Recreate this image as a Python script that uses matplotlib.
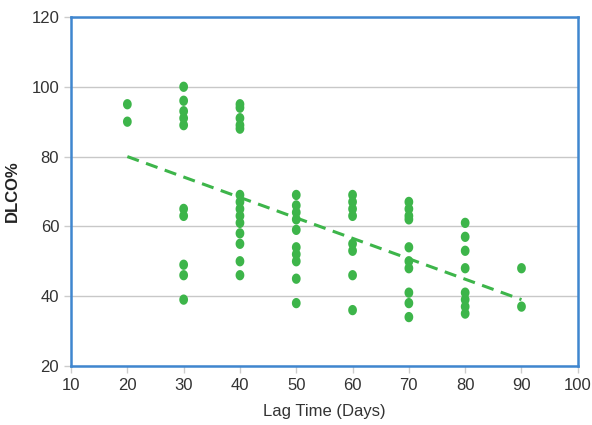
import matplotlib.pyplot as plt
from matplotlib.path import Path
import numpy as np

# lag time (days) and DLCO% readings, grouped by column
lag_days = ([20] * 2 + [30] * 10 + [40] * 14 + [50] * 10 + [60] * 8
            + [70] * 10 + [80] * 8 + [90] * 2)
dlco = [95, 90,
        100, 96, 93, 91, 89, 65, 63, 49, 46, 39,
        95, 94, 91, 89, 88, 69, 67, 65, 63, 61, 58, 55, 50, 46,
        69, 66, 64, 62, 59, 54, 52, 50, 45, 38,
        69, 67, 65, 63, 55, 53, 46, 36,
        67, 65, 63, 62, 54, 50, 48, 41, 38, 34,
        61, 57, 53, 48, 41, 39, 37, 35,
        48, 37]

# trend line end points
trend_x = [20, 90]
trend_y = [80, 39]

x_ticks = [10, 20, 30, 40, 50, 60, 70, 80, 90, 100]
y_ticks = [20, 40, 60, 80, 100, 120]

green = '#3db54a'
blue = '#3f86cf'

# slightly tall oval marker
t = np.linspace(0, 2 * np.pi, 40)
oval = Path(np.column_stack([0.85 * np.cos(t), np.sin(t)]))

plt.rcParams['font.family'] = ['Liberation Sans Narrow', 'Liberation Sans', 'DejaVu Sans']

fig = plt.figure(figsize=(5.92, 4.25), dpi=100)
ax = fig.add_axes([0.12, 0.139, 0.856, 0.821])

ax.scatter(lag_days, dlco, s=55, marker=oval, color=green, edgecolors='none', zorder=3)
ax.plot(trend_x, trend_y, color=green, linestyle=(0, (4, 2.5)), linewidth=2.2, zorder=2)

ax.set_xlim(10, 100)
ax.set_ylim(20, 120)
ax.set_xticks(x_ticks)
ax.set_yticks(y_ticks)
ax.grid(axis='y', color='#c8c8c8', linewidth=1)
ax.set_axisbelow(True)
for sp in ax.spines.values():
    sp.set_color(blue)
    sp.set_linewidth(1.8)
ax.tick_params(colors='#cccccc', labelcolor='#333333', labelsize=12, length=5, width=1)

ax.set_xlabel('Lag Time (Days)', fontsize=12, color='#333333', labelpad=8)
ax.set_ylabel('DLCO%', fontsize=12, fontweight='bold', color='#222222', labelpad=8)

fig.savefig('out.png', dpi=100)
